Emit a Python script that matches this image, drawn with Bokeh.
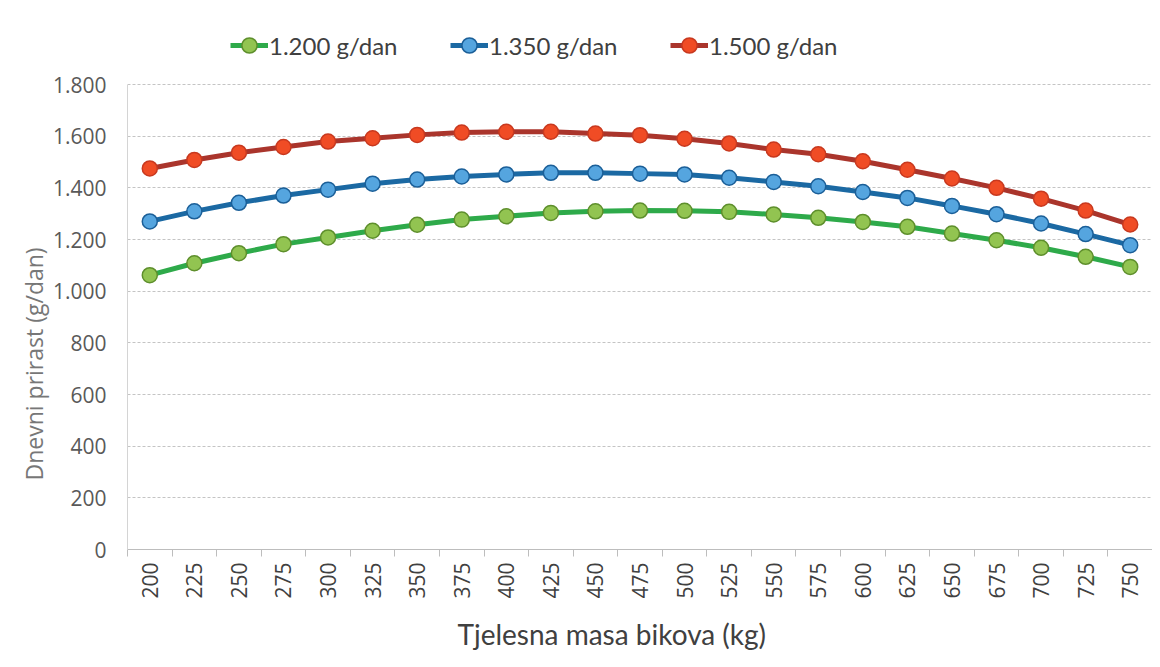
import math
from bokeh.plotting import figure
from bokeh.models import Range1d, FixedTicker, Legend, LegendItem, Title
from bokeh.embed import file_html
from bokeh.resources import INLINE

# ---- data ----
masa = [200, 225, 250, 275, 300, 325, 350, 375, 400, 425, 450, 475,
        500, 525, 550, 575, 600, 625, 650, 675, 700, 725, 750]
prirast_1200 = [1062, 1108, 1147, 1182, 1208, 1234, 1257, 1277, 1290, 1303, 1309, 1312,
                1311, 1307, 1297, 1284, 1268, 1249, 1223, 1197, 1168, 1133, 1094]
prirast_1350 = [1270, 1309, 1342, 1370, 1393, 1416, 1432, 1444, 1452, 1458, 1458, 1455,
                1452, 1439, 1423, 1406, 1384, 1361, 1330, 1298, 1262, 1221, 1178]
prirast_1500 = [1475, 1508, 1536, 1558, 1579, 1592, 1605, 1614, 1617, 1617, 1610, 1604,
                1590, 1572, 1548, 1530, 1503, 1470, 1436, 1400, 1358, 1312, 1258]
series_names = ["1.200 g/dan", "1.350 g/dan", "1.500 g/dan"]
y_ticks = [0, 200, 400, 600, 800, 1000, 1200, 1400, 1600, 1800]
y_tick_labels = ["0", "200", "400", "600", "800", "1.000", "1.200", "1.400", "1.600", "1.800"]
x_title = "Tjelesna masa bikova (kg)"
y_title = "Dnevni prirast (g/dan)"

W, H = 1152, 663
BL, BT = 127, 20
Y0_PX, Y1800_PX = 549, 84          # page rows of 0 and 1.800
BB = H - Y0_PX
frame_h = Y0_PX - BT
y_top = 1800 * frame_h / (Y0_PX - Y1800_PX)   # room above 1.800 for the legend

p = figure(width=W, height=H, output_backend="svg", toolbar_location=None,
           x_range=Range1d(187.5, 762.5), y_range=Range1d(0, y_top),
           min_border_left=BL, min_border_right=0, min_border_top=BT, min_border_bottom=BB)
p.outline_line_color = None
p.background_fill_color = "white"
p.border_fill_color = "white"

# grid
p.xgrid.grid_line_color = None
p.ygrid.ticker = FixedTicker(ticks=y_ticks)
p.ygrid.grid_line_color = "#c4c4c4"
p.ygrid.grid_line_dash = "3 2"
p.ygrid.grid_line_width = 1

# x axis
step = masa[1] - masa[0]
bounds = [masa[0] - step / 2 + step * i for i in range(len(masa) + 1)]
p.xaxis.ticker = FixedTicker(ticks=masa, minor_ticks=bounds)
p.xaxis.axis_line_color = "#bdbdbd"
p.xaxis.major_tick_line_color = None
p.xaxis.major_tick_out = 0
p.xaxis.major_tick_in = 0
p.xaxis.minor_tick_line_color = "#bdbdbd"
p.xaxis.minor_tick_out = 7
p.xaxis.minor_tick_in = 0
p.xaxis.major_label_orientation = math.pi / 2
p.xaxis.major_label_standoff = 6
p.xaxis.major_label_text_font = "Open Sans"
p.xaxis.major_label_text_font_size = "21px"
p.xaxis.major_label_text_color = "#404040"

# x axis title (left-aligned offset as in the reference)
p.add_layout(Title(text=x_title, align="left", offset=457 - BL, standoff=26,
                   text_font="Lato", text_font_size="28px",
                   text_font_style="normal", text_color="#404040"), "below")

# y axis
p.yaxis.ticker = FixedTicker(ticks=y_ticks)
p.yaxis.bounds = (0, 1800)
p.yaxis.major_label_overrides = {t: l for t, l in zip(y_ticks, y_tick_labels)}
p.yaxis.axis_line_color = "#d4d4d4"
p.yaxis.major_tick_line_color = None
p.yaxis.minor_tick_line_color = None
p.yaxis.major_label_standoff = 15
p.yaxis.major_label_text_font = "Open Sans"
p.yaxis.major_label_text_font_size = "21px"
p.yaxis.major_label_text_color = "#595959"

# series
styles = [
    (prirast_1200, "#2eaa4a", "#92c451", "#5e8f2c"),
    (prirast_1350, "#1b69a3", "#55a5df", "#1b5f98"),
    (prirast_1500, "#aa352c", "#f04c25", "#c8391f"),
]
items = []
for name, (vals, lc, fc, oc) in zip(series_names, styles):
    r1 = p.line(masa, vals, line_color=lc, line_width=5)
    r2 = p.scatter(masa, vals, marker="circle", size=15, fill_color=fc,
                   line_color=oc, line_width=1.5)
    items.append(LegendItem(label=name, renderers=[r1, r2]))

legend = Legend(items=items, orientation="horizontal", location=(103, Y0_PX - 64),
                glyph_width=38, glyph_height=38, label_standoff=1, label_width=150,
                spacing=31, padding=0, margin=0, border_line_color=None,
                background_fill_alpha=0,
                label_text_font="Lato", label_text_font_size="24px",
                label_text_color="#404040")
p.add_layout(legend, "center")

# y axis title as a side-panel title (reads bottom to top), bottom end at row 480
p.add_layout(Title(text=y_title, align="left", offset=Y0_PX - 480, standoff=0,
                   text_font="Open Sans", text_font_size="23px",
                   text_font_style="normal", text_color="#777777"), "left")

open("out.html", "w").write(file_html(p, INLINE))
